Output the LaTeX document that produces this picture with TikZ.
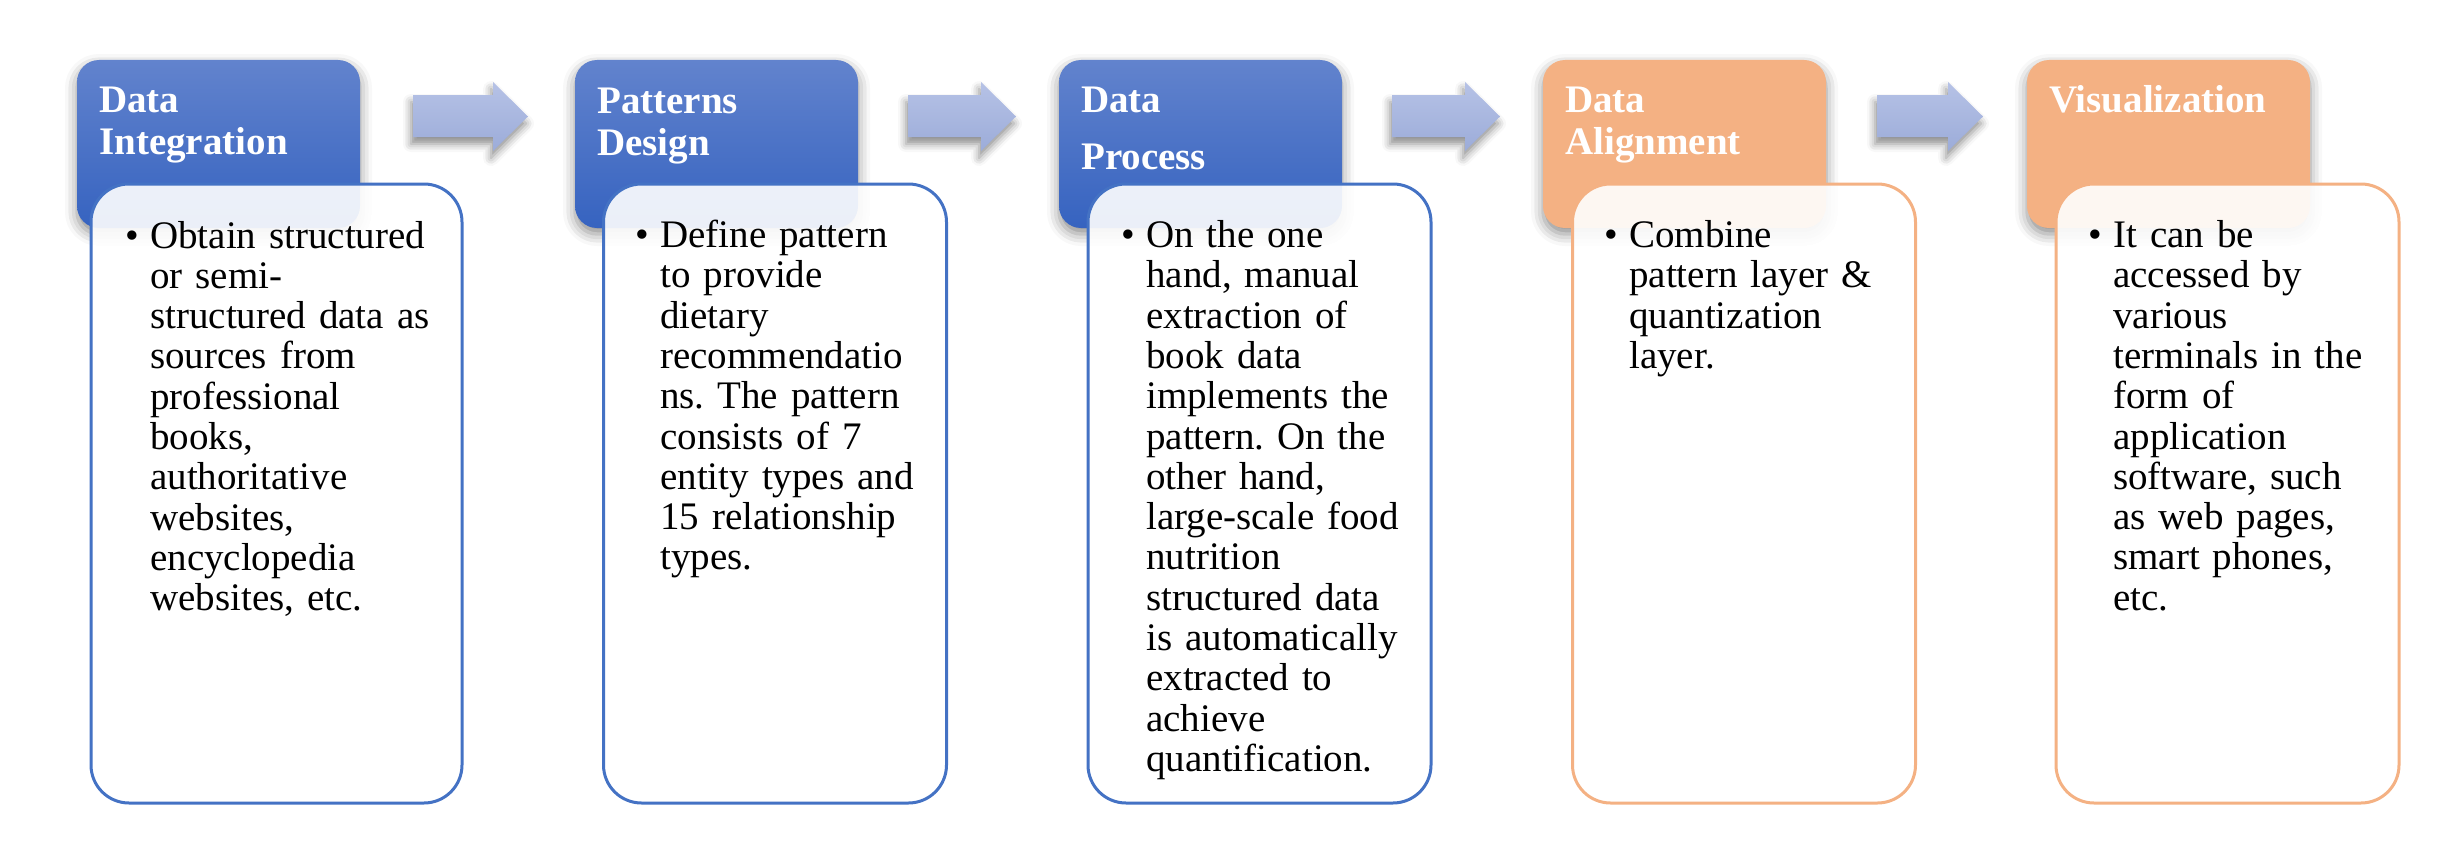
\documentclass[tikz,border=0pt]{standalone}
\usepackage{fontspec}
\setmainfont{Liberation Serif}
\usetikzlibrary{shadows.blur}
\frenchspacing

\definecolor{hdrtop}{RGB}{98,131,205}
\definecolor{hdrbot}{RGB}{54,99,192}
\definecolor{bluedge}{RGB}{68,114,196}
\definecolor{orangefill}{RGB}{244,177,131}
\definecolor{arrtop}{RGB}{182,194,230}
\definecolor{arrbot}{RGB}{156,172,217}

\tikzset{
  hdrbase/.style={rectangle, rounded corners=22pt, minimum width=283pt,
    minimum height=168pt, inner sep=0pt, draw=none,
    blur shadow={shadow xshift=0pt, shadow yshift=-6pt,
      shadow blur radius=12pt, shadow opacity=45}},
  bluehdr/.style={hdrbase, top color=hdrtop, bottom color=hdrbot},
  orangehdr/.style={hdrbase, fill=orangefill},
  bodybase/.style={rectangle, rounded corners=38pt, minimum height=619pt,
    inner sep=0pt, line width=3pt, fill=white, fill opacity=0.9,
    draw opacity=1},
  bluebody/.style={bodybase, draw=bluedge},
  orangebody/.style={bodybase, draw=orangefill},
  hdrtext/.style={anchor=base west, inner sep=0pt, text=white, align=left,
    text width=260pt, font=\fontsize{39}{42}\selectfont\bfseries},
  bodytext/.style={anchor=base west, inner sep=0pt, text=black, align=left,
    text width=300pt, font=\fontsize{39}{40.3}\selectfont},
  blockarrow/.style={top color=arrtop, bottom color=arrbot, draw=none,
    blur shadow={shadow xshift=-2pt, shadow yshift=-7pt,
      shadow blur radius=8pt, shadow opacity=45}},
}

% bullet hanging to the left of the first line
\newcommand{\itembullet}{\llap{•\hspace{11pt}}}
% block arrow from x=#1 (tail) to x=#2 (tip)
\newcommand{\flowarrow}[2]{%
  \path[blockarrow] (#1,95) -- (#2-35,95) -- (#2-35,82) -- (#2,116.5)
    -- (#2-35,151) -- (#2-35,137) -- (#1,137) -- cycle;}

\begin{document}
\begin{tikzpicture}[x=1pt, y=-1pt]
\useasboundingbox (0,0) rectangle (2461,867);

% headers
\node[bluehdr]   (h1) at (218.5,144) {};
\node[bluehdr]   (h2) at (716.5,144) {};
\node[bluehdr]   (h3) at (1200.5,144) {};
\node[orangehdr] (h4) at (1684.5,144) {};
\node[orangehdr] (h5) at (2168.5,144) {};

% header titles
\node[hdrtext] (ht1) at (99,113) {Data\\Integration};
\node[hdrtext] (ht2) at (597,113.5) {Patterns\\Design};
\node[hdrtext, font=\fontsize{39}{56}\selectfont\bfseries] (ht3) at (1081,113) {Data\\Process};
\node[hdrtext] (ht4) at (1565,113) {Data\\Alignment};
\node[hdrtext] (ht5) at (2049,113) {Visualization};

% body panels
\node[bluebody, minimum width=371pt]   (b1) at (276.5,493.5) {};
\node[bluebody, minimum width=343pt]   (b2) at (775,493.5) {};
\node[bluebody, minimum width=343pt]   (b3) at (1259.5,493.5) {};
\node[orangebody, minimum width=343pt] (b4) at (1744,493.5) {};
\node[orangebody, minimum width=343pt] (b5) at (2227.5,493.5) {};

% body texts
\node[bodytext] (bt1) at (150,248) {\itembullet Obtain structured\\or semi-\\structured data as\\sources from\\professional\\books,\\authoritative\\websites,\\encyclopedia\\websites, etc.};
\node[bodytext] (bt2) at (660,247.5) {\itembullet Define pattern\\to provide\\dietary\\recommendatio\\ns. The pattern\\consists of 7\\entity types and\\15 relationship\\types.};
\node[bodytext] (bt3) at (1146,247.5) {\itembullet On the one\\hand, manual\\extraction of\\book data\\implements the\\pattern. On the\\other hand,\\large-scale food\\nutrition\\structured data\\is automatically\\extracted to\\achieve\\quantification.};
\node[bodytext] (bt4) at (1629,247.5) {\itembullet Combine\\pattern layer \&\\quantization\\layer.};
\node[bodytext] (bt5) at (2113,247.5) {\itembullet It can be\\accessed by\\various\\terminals in the\\form of\\application\\software, such\\as web pages,\\smart phones,\\etc.};

% block arrows between the steps
\flowarrow{413}{528}
\flowarrow{908}{1016}
\flowarrow{1392}{1500}
\flowarrow{1877}{1983}
\end{tikzpicture}
\end{document}
